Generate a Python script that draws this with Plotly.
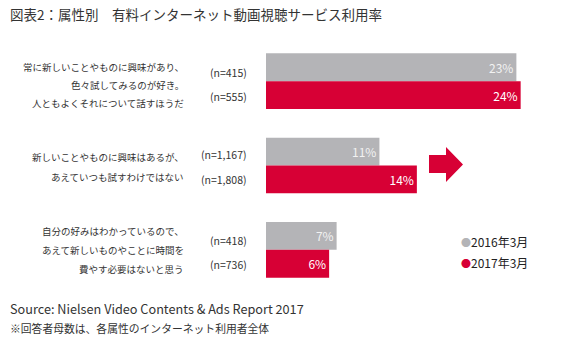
import plotly.graph_objects as go

# ---- data ----
groups = ["g1", "g2", "g3"]
label_lines = [
    ["常に新しいことやものに興味があり、", "色々試してみるのが好き。", "人ともよくそれについて話すほうだ"],
    ["新しいことやものに興味はあるが、", "あえていつも試すわけではない"],
    ["自分の好みはわかっているので、", "あえて新しいものやことに時間を", "費やす必要はないと思う"],
]
n_2016 = ["(n=415)", "(n=1,167)", "(n=418)"]
n_2017 = ["(n=555)", "(n=1,808)", "(n=736)"]
v_2016 = [23.4, 10.6, 6.6]
v_2017 = [23.8, 14.1, 5.9]
series_names = ["2016年3月", "2017年3月"]

GRAY = "#B4B4B7"
RED = "#D70035"
FONT = "Noto Sans CJK JP"

W, H = 580, 351
L, R, T, B = 266, 0, 39, 59
pw, ph = W - L - R, H - T - B


def px(x):
    return (x - L) / pw


def py(y):
    return (H - B - y) / ph


fig = go.Figure()
fig.add_trace(go.Bar(
    y=groups, x=v_2016, orientation="h", name=series_names[0],
    marker=dict(color=GRAY, line=dict(width=0)),
    texttemplate="%{x:.0f}%", textposition="inside", insidetextanchor="end",
    textfont=dict(color="#F2F2F2", size=12, family=FONT), showlegend=False,
))
fig.add_trace(go.Bar(
    y=groups, x=v_2017, orientation="h", name=series_names[1],
    marker=dict(color=RED, line=dict(width=0)),
    texttemplate="%{x:.0f}%", textposition="inside", insidetextanchor="end",
    textfont=dict(color="white", size=12, family=FONT), showlegend=False,
))

ann = []
# title
ann.append(dict(text="図表2：属性別　有料インターネット動画視聴サービス利用率", x=px(8), y=py(14),
                xanchor="left", yanchor="middle", font=dict(size=13.5, color="#333")))
# category labels
line_y = [[67, 84.5, 103], [157, 177], [231, 250, 269]]
for lines, ys in zip(label_lines, line_y):
    for t, yy in zip(lines, ys):
        ann.append(dict(text=t, x=px(186), y=py(yy), xanchor="right", yanchor="middle",
                        font=dict(size=9.5, color="#333")))
n_y = [(72, 96), (154, 179), (240, 264)]
for a, b, (ya, yb) in zip(n_2016, n_2017, n_y):
    ann.append(dict(text=a, x=px(249), y=py(ya), xanchor="right", yanchor="middle",
                    font=dict(size=10.5, color="#333")))
    ann.append(dict(text=b, x=px(249), y=py(yb), xanchor="right", yanchor="middle",
                    font=dict(size=10.5, color="#333")))
# legend
for name, col, yy in zip(series_names, [GRAY, RED], [241, 262]):
    ann.append(dict(text=f"<span style='color:{col};font-size:10px'>●</span>{name}", x=px(459), y=py(yy),
                    xanchor="left", yanchor="middle", font=dict(size=12, color="#222")))
# source
ann.append(dict(text="Source: Nielsen Video Contents & Ads Report 2017", x=px(8), y=py(308),
                xanchor="left", yanchor="middle", font=dict(size=12.7, color="#333")))
ann.append(dict(text="※回答者母数は、各属性のインターネット利用者全体", x=px(8), y=py(328),
                xanchor="left", yanchor="middle", font=dict(size=10.8, color="#333")))
for a in ann:
    a.update(xref="paper", yref="paper", showarrow=False)

# arrow
pts = [(429, 155), (446, 155), (446, 147), (463, 164.5), (446, 182), (446, 173), (429, 173)]
path = "M " + " L ".join(f"{px(x)},{py(y)}" for x, y in pts) + " Z"
shapes = [dict(type="path", xref="paper", yref="paper", path=path,
               fillcolor=RED, line=dict(width=0))]

fig.update_layout(
    width=W, height=H, margin=dict(l=L, r=R, t=T, b=B),
    paper_bgcolor="white", plot_bgcolor="white",
    font=dict(family=FONT, color="#333"),
    barmode="group", bargap=0.34, bargroupgap=0,
    annotations=ann, shapes=shapes,
    xaxis=dict(range=[0, pw / 10.7], visible=False, fixedrange=True),
    yaxis=dict(autorange="reversed", visible=False, fixedrange=True),
)
fig.write_html("out.html", config={"displayModeBar": False})
